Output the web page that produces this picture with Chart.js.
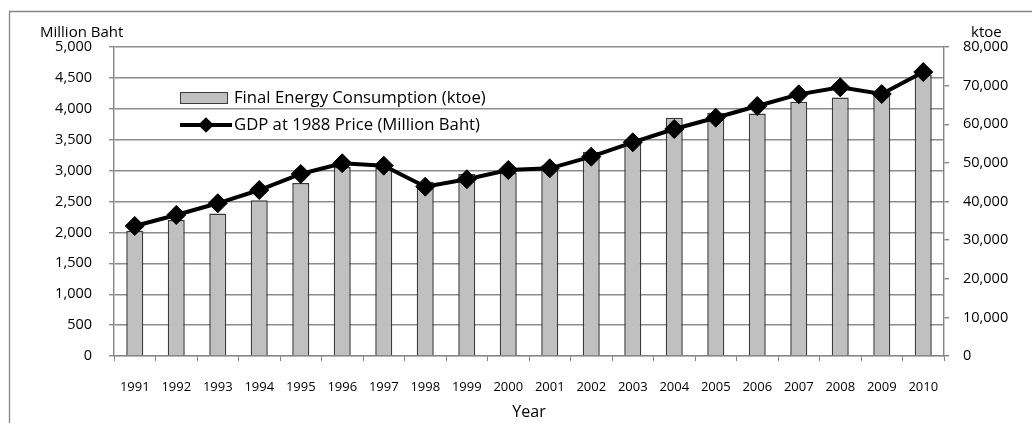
<!DOCTYPE html>
<html>
<head>
<meta charset="utf-8">
<script src="https://cdn.jsdelivr.net/npm/chart.js@4.4.1/dist/chart.umd.min.js"></script>
<style>
  html, body { margin: 0; padding: 0; background: #fff; }
  #wrap { position: relative; width: 1032px; height: 423px; }
</style>
</head>
<body>
<div id="wrap"><canvas id="chart" width="1032" height="423"></canvas></div>
<script>
const years = ['1991', '1992', '1993', '1994', '1995', '1996', '1997', '1998', '1999', '2000',
  '2001', '2002', '2003', '2004', '2005', '2006', '2007', '2008', '2009', '2010']
// Final Energy Consumption (ktoe) - right axis
const energyKtoe = [32400, 35200, 36900, 40300, 44800, 48900, 48700, 45100, 47100, 47400,
  49400, 52900, 55900, 61700, 63000, 62800, 65800, 66900, 68300, 72800]
// GDP at 1988 price (Million Baht) - left axis
const gdpBaht = [2104, 2282, 2471, 2686, 2945, 3118, 3080, 2740, 2859, 3010,
  3037, 3225, 3458, 3673, 3856, 4045, 4234, 4348, 4239, 4595]
const leftMax = 5000
const leftStep = 500
const rightMax = 80000
const rightStep = 10000

const FONT = "'Open Sans', sans-serif"
const AXIS_GRAY = '#868686'

// extra text, the frame and the in-plot legend
const decorPlugin = {
  id: 'decor',
  beforeDraw (chart) {
    const ctx = chart.ctx
    ctx.save()
    ctx.strokeStyle = AXIS_GRAY
    ctx.lineWidth = 1.3
    ctx.beginPath()
    ctx.moveTo(9.5, 423)
    ctx.lineTo(9.5, 11.5)
    ctx.lineTo(1032, 11.5)
    ctx.stroke()
    ctx.restore()
  },
  afterDraw (chart) {
    const ctx = chart.ctx
    const area = chart.chartArea
    ctx.save()
    ctx.fillStyle = '#000'
    ctx.font = '15px ' + FONT
    ctx.textBaseline = 'middle'
    ctx.textAlign = 'left'
    ctx.fillText('Million Baht', 40, 33)
    ctx.fillText('ktoe', 971, 33)

    // legend
    const bar = chart.data.datasets[0]
    const line = chart.data.datasets[1]
    const lx = area.left + 66
    const ly1 = 98
    const ly2 = 125
    ctx.fillStyle = bar.backgroundColor
    ctx.fillRect(lx, ly1 - 6, 48, 12)
    ctx.strokeStyle = bar.borderColor
    ctx.lineWidth = 1
    ctx.strokeRect(lx + 0.5, ly1 - 5.5, 47, 11)

    ctx.strokeStyle = line.borderColor
    ctx.lineWidth = line.borderWidth
    ctx.beginPath()
    ctx.moveTo(lx, ly2)
    ctx.lineTo(lx + 52, ly2)
    ctx.stroke()
    Chart.helpers.drawPoint(ctx, { pointStyle: 'rectRot', radius: 5, borderWidth: 1 }, lx + 26, ly2)
    ctx.fillStyle = line.pointBackgroundColor
    ctx.fill()

    ctx.fillStyle = '#000'
    ctx.font = '16.7px ' + FONT
    ctx.fillText(bar.label, lx + 54, ly1)
    ctx.fillText(line.label, lx + 54, ly2)
    ctx.restore()
  }
}

const config = {
  type: 'bar',
  data: {
    labels: years,
    datasets: [
      {
        type: 'bar',
        label: 'Final Energy Consumption (ktoe)',
        data: energyKtoe,
        yAxisID: 'yRight',
        backgroundColor: '#c0c0c0',
        borderColor: '#3a3a3a',
        borderWidth: 1.5,
        barPercentage: 0.41,
        categoryPercentage: 1,
        order: 2
      },
      {
        type: 'line',
        label: 'GDP at 1988 Price (Million Baht)',
        data: gdpBaht,
        yAxisID: 'yLeft',
        borderColor: '#000',
        borderWidth: 4,
        pointStyle: 'rectRot',
        pointRadius: 9.5,
        pointBackgroundColor: '#000',
        pointBorderColor: '#000',
        pointBorderWidth: 1,
        tension: 0,
        order: 1
      }
    ]
  },
  options: {
    responsive: false,
    animation: false,
    devicePixelRatio: 1,
    layout: { padding: { top: 47, left: 0, right: 0, bottom: 0 } },
    plugins: {
      legend: { display: false },
      tooltip: { enabled: false },
      title: { display: false }
    },
    scales: {
      x: {
        offset: true,
        grid: { display: true, offset: true, drawOnChartArea: false, color: AXIS_GRAY, tickLength: 5 },
        border: { color: AXIS_GRAY, width: 1.3 },
        ticks: { font: { family: FONT, size: 13 }, color: '#000', padding: 18, maxRotation: 0, autoSkip: false },
        title: { display: true, text: 'Year', font: { family: FONT, size: 16 }, color: '#000', padding: { top: 0, bottom: 1 } },
        afterFit: s => { s.height = 67 }
      },
      yLeft: {
        position: 'left',
        min: 0,
        max: leftMax,
        grid: { color: '#8c8c8c', lineWidth: 1.4, tickLength: 5 },
        border: { color: AXIS_GRAY, width: 1.4 },
        ticks: {
          stepSize: leftStep,
          font: { family: FONT, size: 14.5 },
          color: '#000',
          padding: 17,
          callback: v => v.toLocaleString('en-US')
        },
        afterFit: s => { s.width = 114 }
      },
      yRight: {
        position: 'right',
        min: 0,
        max: rightMax,
        grid: { drawOnChartArea: false, color: AXIS_GRAY, lineWidth: 1.4, tickLength: 5 },
        border: { color: AXIS_GRAY, width: 1.4 },
        ticks: {
          stepSize: rightStep,
          font: { family: FONT, size: 14.5 },
          color: '#000',
          padding: 14,
          callback: v => v.toLocaleString('en-US')
        },
        afterFit: s => { s.width = 88 }
      }
    }
  },
  plugins: [decorPlugin]
}

new Chart(document.getElementById('chart').getContext('2d'), config)
</script>
</body>
</html>
